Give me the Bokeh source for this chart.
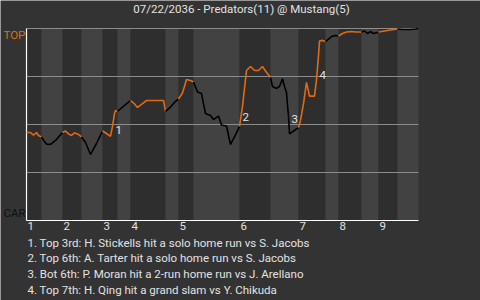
from bokeh.plotting import figure
from bokeh.models import Range1d
from bokeh.core.properties import value
from bokeh.embed import file_html
from bokeh.resources import INLINE

# Game progress (pitch count) and the visitors' win probability (%) after each play
pitch = [0, 2, 3.5, 5, 6, 7.5,
         9, 10, 12, 14.5, 18,
         19.5, 21, 22.5, 24, 25.5, 27.5,
         29.5, 32, 35, 38,
         40, 42, 43, 44, 44.5, 45.5,
         47.5, 49.5, 52,
         54, 55.5, 58, 60, 68.5, 69.5,
         72, 74, 76,
         78, 80, 82, 83.5,
         85.5, 87.5, 89.5, 92, 93.5, 96, 97.5, 100, 102, 104, 106.5,
         108, 109, 110, 112, 114, 116, 118, 119.5, 122,
         123, 125, 126.5, 128, 129, 130, 130.5, 131, 131.5, 133.5, 136,
         137, 138.5, 140, 141.5, 144, 145, 146, 146.5, 148, 149.5,
         151, 152.5, 154.5, 156,
         158, 160, 162.5, 164.5, 167.5,
         169, 170.5, 172, 173.5, 175.5, 176,
         179, 182, 185.5,
         188, 192, 194.5, 196]
wp = [45.8, 45.8, 44.5, 45.8, 44.3, 43.5,
      41.1, 39.8, 39.6, 41.7, 45.8,
      46.6, 45.1, 44.3, 45.6, 45.1, 43.5,
      40.6, 34.4, 40.1, 46.6,
      45.3, 43.8, 49.0, 55.7, 57.3, 56.8,
      58.6, 60.4, 62.5,
      60.7, 58.9, 60.9, 62.5, 62.5, 56.8,
      59.1, 61.5, 63.3,
      66.4, 73.4, 72.9, 72.1,
      66.9, 66.1, 55.7, 54.7, 52.6, 54.4, 49.7, 49.2, 39.6, 43.5, 49.0,
      59.4, 68.8, 78.1, 80.2, 78.1, 78.1, 80.2, 77.9, 74.5,
      69.8, 68.8, 69.8, 73.8, 69.8, 66.7, 59.9, 54.7, 45.1, 46.6, 48.4,
      52.1, 60.9, 71.9, 64.8, 64.8, 73.4, 85.9, 93.5, 93.8, 93.2,
      94.5, 95.8, 96.4, 96.1,
      97.4, 98.2, 98.4, 98.2, 98.2,
      98.7, 97.4, 98.4, 97.4, 97.9, 98.2,
      98.7, 99.2, 99.7,
      99.5, 99.5, 99.7, 100.0]

# Pitch count at which each half-inning starts (top 1st, bottom 1st, ...), plus game end
half_starts = [0, 7.5, 18, 27.5, 38, 45.5, 52, 69.5, 76, 83.5,
               106.5, 122, 136, 149.5, 156, 167.5, 176, 185.5, 196]
innings = ["1", "2", "3", "4", "5", "6", "7", "8", "9"]
wp_lines = [25, 50, 75, 100]

title_text = "07/22/2036 - Predators(11) @ Mustang(5)"
away_abbr = "TOP"
home_abbr = "CAR"

# Key plays: where the marker number sits, and the description
key_pitch = [44.5, 108, 132.5, 146.5]
key_wp = [47, 54, 53, 76]
key_notes = [
    "1. Top 3rd: H. Stickells hit a solo home run vs S. Jacobs",
    "2. Top 6th: A. Tarter hit a solo home run vs S. Jacobs",
    "3. Bot 6th: P. Moran hit a 2-run home run vs J. Arellano",
    "4. Top 7th: H. Qing hit a grand slam vs Y. Chikuda",
]

BG = "#333333"
BAND_TOP = "#2e2e2e"
BAND_BOT = "#424242"
GRID = "#8c8c8c"
AWAY = "#e06a14"
HOME = "#000000"
TXT = "#e2e2e2"
FONT = value("Roboto")
FS = value("11.5px")

# pixel margins around the chart area
M_LEFT, M_RIGHT, M_TOP, M_BOTTOM = 26, 62, 28, 80
W, H = 480, 300
g0, g1 = half_starts[0], half_starts[-1]
xpp = (g1 - g0) / (W - M_LEFT - M_RIGHT)   # data units per pixel
ypp = 100 / (H - M_TOP - M_BOTTOM)

p = figure(width=W, height=H, output_backend="svg", toolbar_location=None,
           x_axis_type=None, y_axis_type=None,
           x_range=Range1d(g0 - M_LEFT * xpp, g1 + M_RIGHT * xpp),
           y_range=Range1d(-M_BOTTOM * ypp, 100 + M_TOP * ypp),
           min_border=0, background_fill_color=BG, border_fill_color=BG,
           outline_line_color=None)
p.grid.visible = False

# alternating half-inning shading
lefts = half_starts[:-1]
rights = half_starts[1:]
band_colors = [BAND_TOP if i % 2 == 0 else BAND_BOT for i in range(len(lefts))]
p.quad(left=lefts, right=rights, bottom=0, top=100, fill_color=band_colors, line_color=None)

# quarter lines
p.segment(x0=g0, x1=g1, y0=wp_lines, y1=wp_lines, line_color=GRID, line_width=1)

# axis lines
p.segment(x0=[g0, g0], x1=[g1, g0], y0=[0, 0], y1=[0, 100], line_color="#ffffff", line_width=1.2)

# win probability line, coloured by which side is batting
for i in range(len(lefts)):
    lo, hi = lefts[i], rights[i]
    xs = [x for x in pitch if lo <= x <= hi]
    ys = [wp[j] for j, x in enumerate(pitch) if lo <= x <= hi]
    p.line(xs, ys, line_color=AWAY if i % 2 == 0 else HOME, line_width=1.6)

# key play markers
p.text(x=key_pitch, y=key_wp, text=[str(k + 1) for k in range(len(key_pitch))],
       text_color=TXT, text_font=FONT, text_font_size=FS,
       text_baseline="middle", text_align="left")

# inning numbers along the bottom
p.text(x=half_starts[:-1:2], y=0, text=innings, x_offset=1, y_offset=1,
       text_color=TXT, text_font=FONT, text_font_size=FS,
       text_baseline="top", text_align="left")

# team labels at the ends of the probability scale
p.text(x=g0, y=100, text=[away_abbr], x_offset=-23, y_offset=6,
       text_color=AWAY, text_font=FONT, text_font_size=FS,
       text_baseline="middle", text_align="left")
p.text(x=g0, y=0, text=[home_abbr], x_offset=-23, y_offset=-8,
       text_color="#111111", text_font=FONT, text_font_size=FS,
       text_baseline="middle", text_align="left")

# title
p.text(x=(g0 - M_LEFT * xpp + g1 + M_RIGHT * xpp) / 2, y=100, text=[title_text],
       x_offset=1, y_offset=-19.5,
       text_color=TXT, text_font=FONT, text_font_size=FS,
       text_baseline="middle", text_align="center")

# key play notes under the chart
p.text(x=g0, y=0, text=key_notes, x_offset=1,
       y_offset=[22 + 15.7 * k for k in range(len(key_notes))],
       text_color=TXT, text_font=FONT, text_font_size=FS,
       text_baseline="middle", text_align="left")

open("out.html", "w").write(file_html(p, INLINE))
